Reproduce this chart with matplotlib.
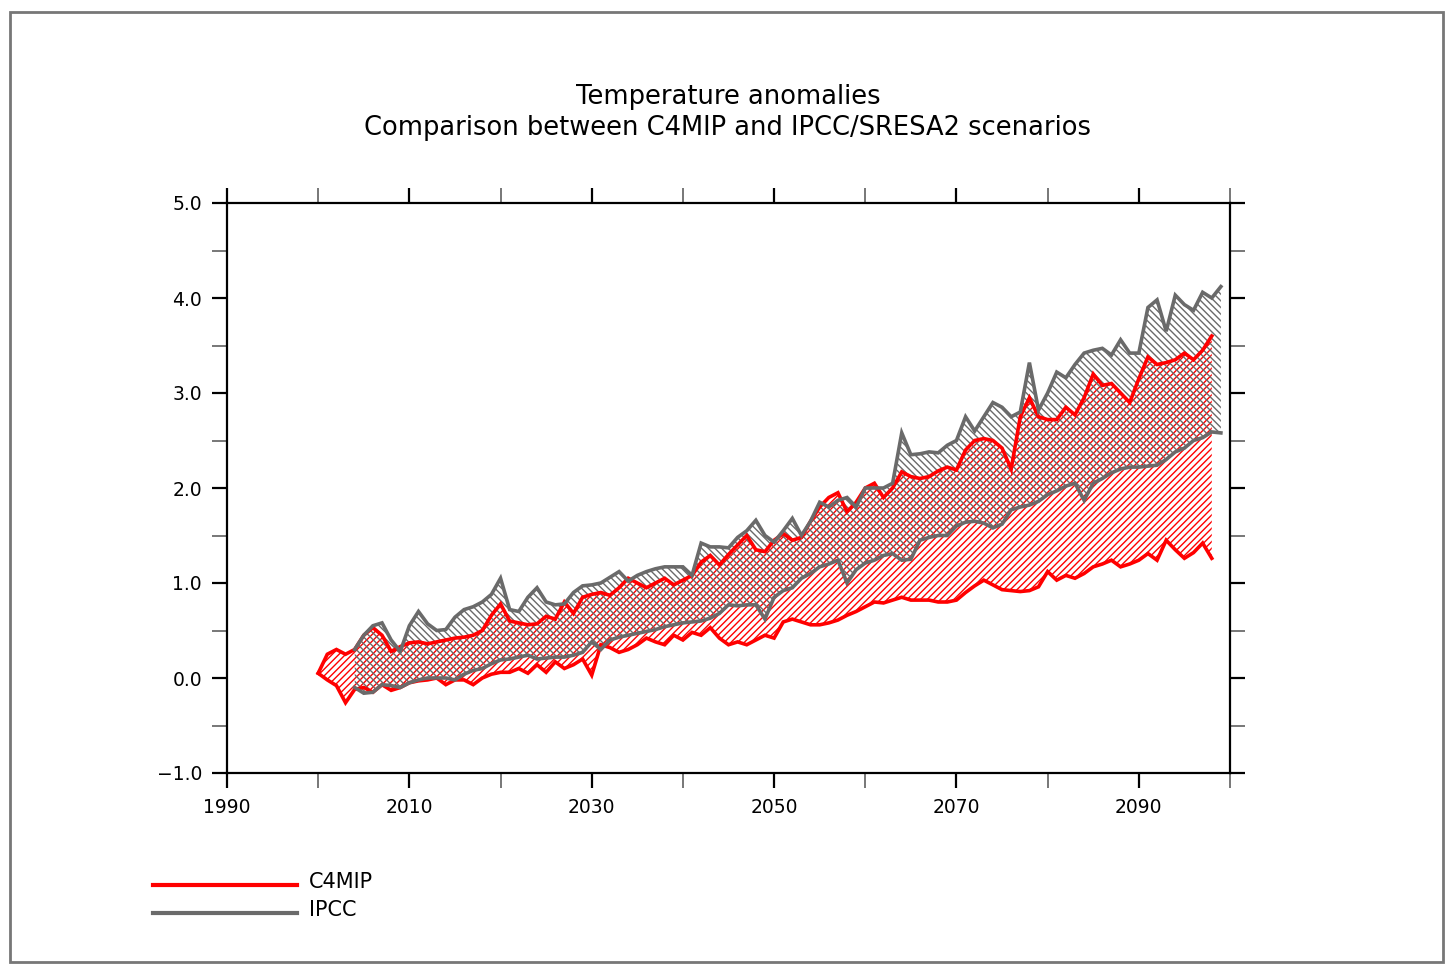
import numpy as np
import matplotlib
matplotlib.use("Agg")
import matplotlib.pyplot as plt
from matplotlib.lines import Line2D
from matplotlib.patches import Rectangle

# ---------------- data ----------------
c4mip_years = list(range(2000, 2099))
c4mip_upper = [0.05, 0.25, 0.30, 0.25, 0.30, 0.45, 0.53, 0.45, 0.28, 0.33,
               0.37, 0.38, 0.36, 0.38, 0.40, 0.42, 0.43, 0.45, 0.50, 0.66,
               0.78, 0.60, 0.58, 0.56, 0.57, 0.65, 0.62, 0.80, 0.68, 0.85,
               0.88, 0.90, 0.87, 0.95, 1.05, 1.00, 0.95, 1.00, 1.05, 0.98,
               1.03, 1.08, 1.22, 1.29, 1.19, 1.30, 1.40, 1.50, 1.35, 1.33,
               1.45, 1.52, 1.45, 1.48, 1.65, 1.80, 1.90, 1.95, 1.75, 1.85,
               2.00, 2.05, 1.90, 2.00, 2.17, 2.12, 2.10, 2.12, 2.18, 2.22,
               2.19, 2.40, 2.50, 2.52, 2.50, 2.42, 2.20, 2.75, 2.95, 2.75,
               2.72, 2.72, 2.85, 2.77, 2.95, 3.20, 3.08, 3.10, 3.00, 2.90,
               3.15, 3.38, 3.30, 3.32, 3.35, 3.42, 3.35, 3.45, 3.60]
c4mip_lower = [0.05, -0.02, -0.08, -0.26, -0.12, -0.10, -0.15, -0.07, -0.13, -0.10,
               -0.05, -0.03, -0.02, 0.00, -0.07, -0.02, -0.02, -0.07, 0.00, 0.04,
               0.06, 0.06, 0.10, 0.05, 0.14, 0.06, 0.17, 0.10, 0.14, 0.20,
               0.03, 0.35, 0.32, 0.27, 0.30, 0.35, 0.42, 0.38, 0.35, 0.45,
               0.40, 0.48, 0.45, 0.53, 0.42, 0.35, 0.38, 0.35, 0.40, 0.45,
               0.42, 0.59, 0.62, 0.59, 0.56, 0.56, 0.58, 0.61, 0.66, 0.70,
               0.75, 0.80, 0.79, 0.82, 0.85, 0.82, 0.82, 0.82, 0.80, 0.80,
               0.82, 0.90, 0.97, 1.03, 0.98, 0.93, 0.92, 0.91, 0.92, 0.96,
               1.12, 1.03, 1.08, 1.05, 1.10, 1.17, 1.20, 1.24, 1.17, 1.20,
               1.24, 1.31, 1.24, 1.45, 1.35, 1.26, 1.32, 1.42, 1.26]

ipcc_years = list(range(2004, 2100))
ipcc_upper = [0.30, 0.45, 0.55, 0.58, 0.40, 0.28,
              0.55, 0.70, 0.57, 0.50, 0.51, 0.64, 0.72, 0.75, 0.80, 0.88,
              1.05, 0.72, 0.70, 0.85, 0.95, 0.80, 0.77, 0.78, 0.90, 0.97,
              0.98, 1.00, 1.06, 1.12, 1.02, 1.08, 1.12, 1.15, 1.17, 1.17,
              1.17, 1.08, 1.42, 1.38, 1.38, 1.37, 1.48, 1.55, 1.66, 1.50,
              1.43, 1.55, 1.68, 1.50, 1.65, 1.85, 1.80, 1.87, 1.90, 1.80,
              2.00, 2.00, 2.00, 2.05, 2.58, 2.35, 2.36, 2.38, 2.37, 2.45,
              2.50, 2.75, 2.60, 2.75, 2.90, 2.85, 2.75, 2.80, 3.32, 2.82,
              3.00, 3.22, 3.16, 3.30, 3.42, 3.45, 3.47, 3.40, 3.56, 3.42,
              3.42, 3.90, 3.98, 3.65, 4.03, 3.93, 3.87, 4.06, 4.00, 4.12]
ipcc_lower = [-0.10, -0.16, -0.15, -0.07, -0.08, -0.10,
              -0.05, -0.02, 0.00, 0.00, 0.00, -0.02, 0.04, 0.08, 0.10, 0.15,
              0.19, 0.20, 0.22, 0.24, 0.20, 0.21, 0.22, 0.22, 0.24, 0.27,
              0.38, 0.30, 0.40, 0.43, 0.45, 0.47, 0.49, 0.51, 0.54, 0.56,
              0.58, 0.59, 0.60, 0.63, 0.68, 0.77, 0.76, 0.77, 0.77, 0.62,
              0.85, 0.92, 0.95, 1.05, 1.10, 1.17, 1.20, 1.24, 1.00, 1.14,
              1.21, 1.24, 1.29, 1.31, 1.24, 1.25, 1.45, 1.48, 1.50, 1.50,
              1.60, 1.64, 1.65, 1.63, 1.58, 1.62, 1.77, 1.80, 1.82, 1.86,
              1.93, 1.97, 2.02, 2.05, 1.87, 2.05, 2.10, 2.16, 2.20, 2.22,
              2.22, 2.23, 2.24, 2.30, 2.38, 2.42, 2.50, 2.53, 2.59, 2.58]

x_major = [1990, 2010, 2030, 2050, 2070, 2090]
x_minor = [2000, 2020, 2040, 2060, 2080, 2100]
y_major = [-1.0, 0.0, 1.0, 2.0, 3.0, 4.0, 5.0]
y_minor = [-0.5, 0.5, 1.5, 2.5, 3.5, 4.5]

title_lines = ["Temperature anomalies",
               "Comparison between C4MIP and IPCC/SRESA2 scenarios"]
legend_labels = ["C4MIP", "IPCC"]

RED = "#ff0000"
GRAY = "#6a6a6a"

# ---------------- figure ----------------
W, H = 1445, 965
fig = plt.figure(figsize=(W / 100, H / 100), dpi=100)
plt.rcParams["hatch.linewidth"] = 1.0

def fx(px):
    return px / W

def fy(py):
    return 1 - py / H

# outer frame
fig.patches.append(Rectangle((fx(10), fy(962)), fx(1443) - fx(10), fy(12) - fy(962),
                             transform=fig.transFigure, fill=False,
                             edgecolor="#777777", linewidth=2.0))

ax = fig.add_axes([fx(227), fy(773), fx(1230) - fx(227), fy(203) - fy(773)])
ax.set_xlim(1990, 2100)
ax.set_ylim(-1.0, 5.0)

cy = np.array(c4mip_years)
iy = np.array(ipcc_years)

ax.fill_between(cy, c4mip_lower, c4mip_upper, facecolor="none",
                edgecolor=RED, hatch="/////", linewidth=0, zorder=2)
ax.fill_between(iy, ipcc_lower, ipcc_upper, facecolor="none",
                edgecolor=GRAY, hatch="\\\\\\\\\\", linewidth=0, zorder=3)

for s in (c4mip_upper, c4mip_lower):
    ax.plot(cy, s, color=RED, linewidth=2.6, zorder=4, solid_joinstyle="miter")
for s in (ipcc_upper, ipcc_lower):
    ax.plot(iy, s, color=GRAY, linewidth=2.6, zorder=5, solid_joinstyle="miter")

# axes styling
for sp in ax.spines.values():
    sp.set_linewidth(1.6)
    sp.set_color("black")

ax.set_xticks(x_major)
ax.set_xticks(x_minor, minor=True)
ax.set_yticks(y_major)
ax.set_yticks(y_minor, minor=True)
ax.set_xticklabels([str(v) for v in x_major])
ax.set_yticklabels([("%.1f" % v).replace("-", "\u2212") for v in y_major])

ax.tick_params(which="both", direction="out", top=True, right=True,
               length=11, labelsize=13.5)
ax.tick_params(which="major", width=1.6, color="black")
ax.tick_params(which="minor", width=1.4, color="#777777")
ax.tick_params(axis="x", pad=7)
ax.tick_params(axis="y", pad=7)

# titles
fig.text(fx(728), fy(97), title_lines[0], ha="center", va="center",
         fontsize=18.5, family="DejaVu Sans")
fig.text(fx(728), fy(128), title_lines[1], ha="center", va="center",
         fontsize=18.5, family="DejaVu Sans")

# legend
for ypix, col, lab in ((885, RED, legend_labels[0]), (913, GRAY, legend_labels[1])):
    fig.add_artist(Line2D([fx(153), fx(297)], [fy(ypix), fy(ypix)],
                          transform=fig.transFigure, color=col, linewidth=3))
    fig.text(fx(309), fy(ypix - 3), lab, ha="left", va="center", fontsize=15)

fig.savefig("out.png", dpi=100)
